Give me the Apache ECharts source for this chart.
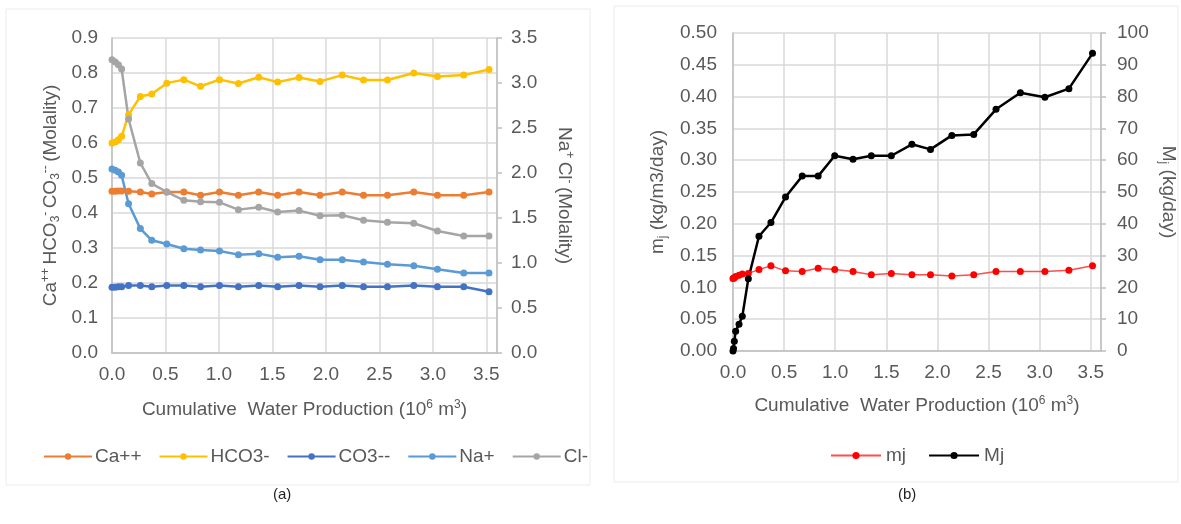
<!DOCTYPE html>
<html>
<head>
<meta charset="utf-8">
<script src="https://cdn.jsdelivr.net/npm/echarts@6/dist/echarts.min.js"></script>
<style>
html,body{margin:0;padding:0;background:#fff;}
#chart{width:1181px;height:524px;}
</style>
</head>
<body>
<div id="chart"></div>
<script>
// ---------- Data: panel (a) ----------
const xA = [0, 0.03, 0.06, 0.09, 0.155, 0.265, 0.372, 0.512, 0.672, 0.828, 1.005, 1.182, 1.372, 1.549, 1.749, 1.945, 2.153, 2.352, 2.576, 2.822, 3.043, 3.289, 3.525];
const caPP = [0.462, 0.462, 0.463, 0.463, 0.462, 0.460, 0.454, 0.460, 0.460, 0.451, 0.460, 0.451, 0.460, 0.451, 0.460, 0.451, 0.460, 0.451, 0.451, 0.460, 0.451, 0.451, 0.460];
const hco3 = [0.600, 0.603, 0.609, 0.619, 0.681, 0.733, 0.740, 0.771, 0.781, 0.762, 0.781, 0.770, 0.788, 0.774, 0.787, 0.776, 0.794, 0.780, 0.780, 0.800, 0.790, 0.794, 0.810];
const co3 = [0.188, 0.188, 0.189, 0.189, 0.193, 0.193, 0.189, 0.193, 0.193, 0.189, 0.193, 0.189, 0.193, 0.189, 0.193, 0.189, 0.193, 0.189, 0.189, 0.193, 0.189, 0.189, 0.175];
const naP = [2.045, 2.030, 2.011, 1.974, 1.659, 1.382, 1.252, 1.211, 1.159, 1.145, 1.133, 1.093, 1.104, 1.063, 1.074, 1.037, 1.037, 1.011, 0.985, 0.970, 0.930, 0.889, 0.889];
const clM = [3.259, 3.233, 3.204, 3.156, 2.600, 2.111, 1.882, 1.789, 1.696, 1.681, 1.674, 1.593, 1.619, 1.567, 1.582, 1.526, 1.530, 1.474, 1.452, 1.441, 1.356, 1.300, 1.300];
const namesA = ['Ca++', 'HCO3-', 'CO3--', 'Na+', 'Cl-'];

// ---------- Data: panel (b) ----------
const xB = [0, 0.005, 0.013, 0.026, 0.059, 0.091, 0.150, 0.254, 0.371, 0.514, 0.677, 0.833, 0.995, 1.174, 1.353, 1.549, 1.750, 1.932, 2.141, 2.355, 2.573, 2.811, 3.051, 3.286, 3.517];
const mjSmall = [0.114, 0.1145, 0.115, 0.117, 0.119, 0.121, 0.122, 0.128, 0.134, 0.126, 0.125, 0.130, 0.128, 0.125, 0.120, 0.122, 0.120, 0.120, 0.118, 0.120, 0.125, 0.125, 0.125, 0.127, 0.134];
const MjBig = [0, 0.8, 3.1, 6.2, 8.4, 10.9, 22.7, 36.1, 40.4, 48.4, 55.0, 55.0, 61.4, 60.3, 61.4, 61.4, 65.0, 63.4, 67.8, 68.1, 76.0, 81.2, 79.8, 82.5, 93.6];
const namesB = ['mj', 'Mj'];

const pair = (xs, ys) => xs.map((x, i) => [x, ys[i]]);

const FONT = '"Liberation Sans", Arial, sans-serif';
const TXT = '#595959';
const GRID = '#d9d9d9';
const AXIS = '#bfbfbf';
const FS = 19;

const rich = {
  n: {fontSize: FS, color: TXT, fontFamily: FONT, lineHeight: 22},
  p: {fontSize: 12, color: TXT, fontFamily: FONT, lineHeight: 12, verticalAlign: 'top'},
  b: {fontSize: 12, color: TXT, fontFamily: FONT, lineHeight: 12, verticalAlign: 'bottom'}
};

function xAxisDef(gridIndex) {
  return {
    type: 'value', gridIndex, min: 0, max: 3.6, interval: 0.5,
    name: '{n|Cumulative  Water Production (10}{p|6}{n| m}{p|3}{n|)}',
    nameLocation: 'middle', nameGap: gridIndex === 0 ? 46 : 44,
    nameTextStyle: {rich},
    axisLine: {show: true, lineStyle: {color: AXIS, width: 1.5}},
    axisTick: {show: false},
    axisLabel: {color: TXT, fontSize: FS, fontFamily: FONT, margin: 12, showMaxLabel: false,
      formatter: v => v.toFixed(1)},
    splitLine: {show: true, lineStyle: {color: GRID, width: 1.5}}
  };
}

function lineSeries(name, data, color, xi, yi, lw, lineColor) {
  return {
    type: 'line', name, data, xAxisIndex: xi, yAxisIndex: yi,
    symbol: 'circle', symbolSize: 7, showSymbol: true,
    itemStyle: {color},
    lineStyle: {color: lineColor || color, width: lw},
    emphasis: {disabled: true},
    animation: false, z: 3
  };
}

const chart = echarts.init(document.getElementById('chart'), null, {renderer: 'canvas'});

chart.setOption({
  backgroundColor: '#ffffff',
  animation: false,
  textStyle: {fontFamily: FONT},
  grid: [
    {left: 112, top: 38, width: 385, height: 315},
    {left: 733, top: 33, width: 368, height: 318}
  ],
  xAxis: [xAxisDef(0), xAxisDef(1)],
  yAxis: [
    {
      type: 'value', gridIndex: 0, min: 0, max: 0.9, interval: 0.1, position: 'left',
      name: '{n|Ca}{p|++} {n|HCO}{b|3}{p|-} {n|CO}{b|3}{p|--} {n|(Molality)}',
      nameLocation: 'middle', nameGap: 50, nameRotate: 90, nameTextStyle: {rich},
      axisLine: {show: true, lineStyle: {color: AXIS, width: 1.5}},
      axisTick: {show: false},
      axisLabel: {color: TXT, fontSize: FS, fontFamily: FONT, margin: 14, formatter: v => v.toFixed(1)},
      splitLine: {show: true, lineStyle: {color: GRID, width: 1.5}}
    },
    {
      type: 'value', gridIndex: 0, min: 0, max: 3.5, interval: 0.5, position: 'right',
      name: '{n|Na}{p|+} {n|Cl}{p|-} {n|(Molality)}',
      nameLocation: 'middle', nameGap: 56, nameRotate: -90, nameTextStyle: {rich},
      axisLine: {show: true, lineStyle: {color: AXIS, width: 1.5}},
      axisTick: {show: true, length: 5, lineStyle: {color: AXIS, width: 1.5}},
      axisLabel: {color: TXT, fontSize: FS, fontFamily: FONT, margin: 14, formatter: v => v.toFixed(1)},
      splitLine: {show: false}
    },
    {
      type: 'value', gridIndex: 1, min: 0, max: 0.5, interval: 0.05, position: 'left',
      name: '{n|m}{b|j}{n| (kg/m3/day)}',
      nameLocation: 'middle', nameGap: 64, nameRotate: 90, nameTextStyle: {rich},
      axisLine: {show: true, lineStyle: {color: AXIS, width: 1.5}},
      axisTick: {show: false},
      axisLabel: {color: TXT, fontSize: FS, fontFamily: FONT, margin: 16, formatter: v => v.toFixed(2)},
      splitLine: {show: true, lineStyle: {color: GRID, width: 1.5}}
    },
    {
      type: 'value', gridIndex: 1, min: 0, max: 100, interval: 10, position: 'right',
      name: '{n|M}{b|j}{n| (kg/day)}',
      nameLocation: 'middle', nameGap: 56, nameRotate: -90, nameTextStyle: {rich},
      axisLine: {show: true, lineStyle: {color: AXIS, width: 1.5}},
      axisTick: {show: true, length: 5, lineStyle: {color: AXIS, width: 1.5}},
      axisLabel: {color: TXT, fontSize: FS, fontFamily: FONT, margin: 16, formatter: v => String(Math.round(v))},
      splitLine: {show: false}
    }
  ],
  legend: [
    {
      data: namesA, left: 38, top: 442, itemWidth: 48, itemHeight: 8, itemGap: 17,
      textStyle: {color: TXT, fontSize: FS, fontFamily: FONT, padding: [0, 0, 0, -2]},
      selectedMode: false
    },
    {
      data: namesB, left: 825, top: 441, itemWidth: 50, itemHeight: 9, itemGap: 22,
      textStyle: {color: TXT, fontSize: FS, fontFamily: FONT},
      selectedMode: false
    }
  ],
  graphic: [
    {type: 'rect', shape: {x: 6, y: 9, width: 584, height: 476}, style: {fill: 'none', stroke: '#ececec', lineWidth: 1}, silent: true, z: -1},
    {type: 'rect', shape: {x: 614, y: 6, width: 564, height: 476}, style: {fill: 'none', stroke: '#ececec', lineWidth: 1}, silent: true, z: -1},
    {type: 'text', left: 273, top: 487, style: {text: '(a)', fill: '#222', font: '15px ' + FONT}, silent: true},
    {type: 'text', left: 898, top: 487, style: {text: '(b)', fill: '#222', font: '15px ' + FONT}, silent: true}
  ],
  series: [
    lineSeries(namesA[0], pair(xA, caPP), '#ED7D31', 0, 0, 2.5),
    lineSeries(namesA[1], pair(xA, hco3), '#FFC000', 0, 0, 2.5),
    lineSeries(namesA[2], pair(xA, co3), '#4472C4', 0, 0, 2.5),
    lineSeries(namesA[3], pair(xA, naP), '#5B9BD5', 0, 1, 2.5),
    lineSeries(namesA[4], pair(xA, clM), '#A5A5A5', 0, 1, 2.5),
    lineSeries(namesB[0], pair(xB, mjSmall), '#FF0000', 1, 2, 1.5, '#FF4D4D'),
    lineSeries(namesB[1], pair(xB, MjBig), '#000000', 1, 3, 2.5)
  ]
});
</script>
</body>
</html>
